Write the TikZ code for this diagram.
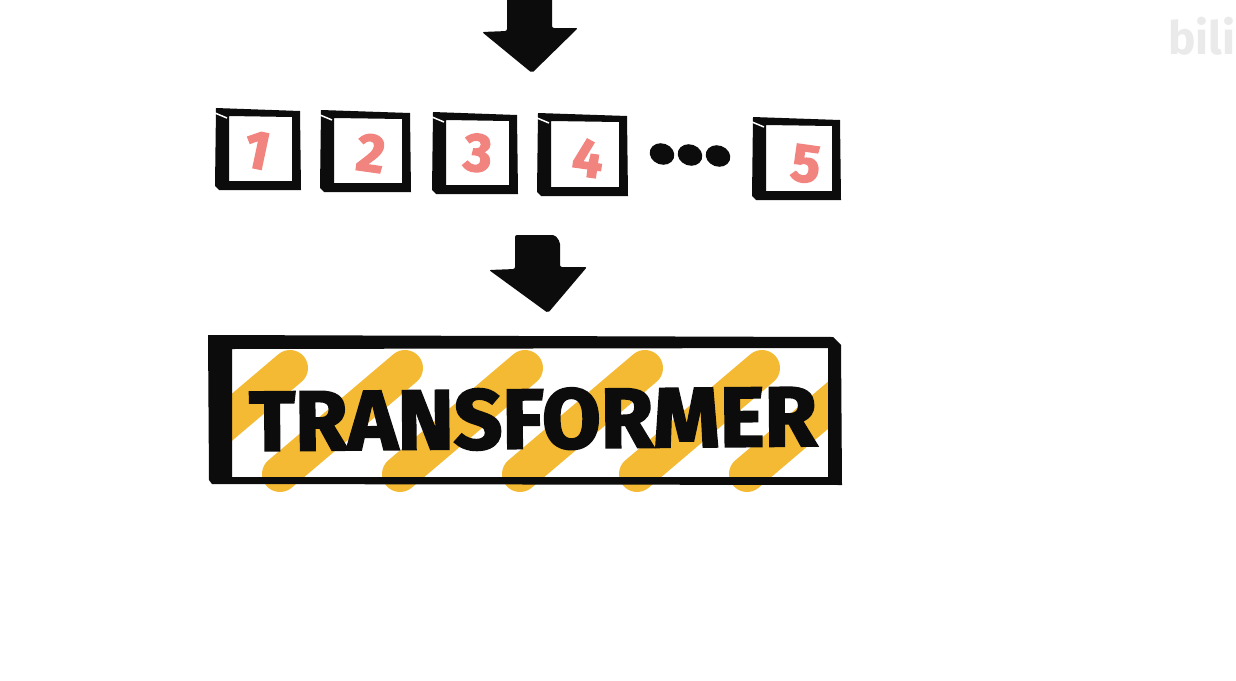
\documentclass[tikz,border=0pt]{standalone}
\usepackage{fontspec}
\setmainfont{Fira Sans}
\newfontfamily\heavyfont{Fira Sans Bold}[FakeBold=2.5]
\usepackage{graphicx}
\definecolor{ink}{RGB}{12,12,12}
\definecolor{stripecol}{RGB}{245,186,52}
\definecolor{digitcol}{RGB}{242,132,128}
\definecolor{wmcol}{RGB}{234,234,234}
\tikzset{
  digitstyle/.style={text=digitcol, font=\heavyfont\fontsize{54}{54}\selectfont, inner sep=0pt},
  stripeline/.style={draw=stripecol, line width=36pt, line cap=round},
  blockarrow/.style={fill=ink, rounded corners=2pt},
  dotblob/.style={fill=ink},
}
\newcommand{\tokenbox}[4]{%
  % #1=L, #2=T, #3=R, #4=B
  \fill[ink, even odd rule]
    (#1+1,#2) -- (#3,#2+3) -- (#3+1,#4) -- (#1+4,#4) -- (#1,#4-4) -- cycle
    (#1+14,#2+8) -- (#3-8,#2+9) -- (#3-8,#4-9) -- (#1+14,#4-9) -- cycle;
  \draw[white, line width=1.5pt] (#1,#2+5) -- (#1+12,#2+10);
}
\begin{document}
\begin{tikzpicture}[x=1pt,y=-1pt]
\useasboundingbox[fill=white] (0,0) rectangle (1236,680);

% top block arrow
\fill[blockarrow] (507,-10) -- (552,-10) -- (552,28) -- (578,28) -- (532,73) -- (482,32) -- (507,31) -- cycle;

% token boxes
\tokenbox{215}{108}{300}{190}
\tokenbox{320}{110}{410}{192}
\tokenbox{432}{112}{517}{194}
\tokenbox{537}{113}{627}{196}
\tokenbox{752}{117}{840}{200}

\node[digitstyle, rotate=-12] (n1) at (257,150) {1};
\node[digitstyle, rotate=-8] (n2) at (371,153) {2};
\node[digitstyle, rotate=-5] (n3) at (478,153) {3};
\node[digitstyle, rotate=-8] (n4) at (588,158) {4};
\node[digitstyle, rotate=-8] (n5) at (806,164) {5};

% ellipsis dots
\fill[dotblob, rotate around={-20:(662,154)}] (662,154) ellipse (12.5 and 10.5);
\fill[dotblob, rotate around={-20:(690,155)}] (690,155) ellipse (12.5 and 10.5);
\fill[dotblob, rotate around={-20:(718,156)}] (718,156) ellipse (12.5 and 10.5);

% second block arrow
\fill[blockarrow] (515,235) -- (555,235) -- (560,242) -- (560,267) -- (587,267) -- (548,313) -- (489,270) -- (515,269) -- cycle;

% transformer stripes
\begin{scope}
  \clip (232,345) rectangle (828,492);
  \foreach \t in {290,405,525,645,762,872}
    \draw[stripeline] (\t,368) -- (\t-125,474);
\end{scope}

% transformer frame
\fill[ink, even odd rule]
  (208,335) -- (833,337) -- (841,345) -- (842,485) -- (212,484) -- (209,480) -- cycle
  (232,349) -- (828,348) -- (828,477) -- (232,477) -- cycle;

\node[inner sep=0pt, text=ink, rotate=0.5] (title) at (533,419) {\resizebox{567pt}{60pt}{\heavyfont TRANSFORMER}};

% watermark
\node[anchor=west, inner sep=0pt, text=wmcol, font=\bfseries\fontsize{46}{46}\selectfont] (wm) at (1168,36) {bili};
\end{tikzpicture}
\end{document}
